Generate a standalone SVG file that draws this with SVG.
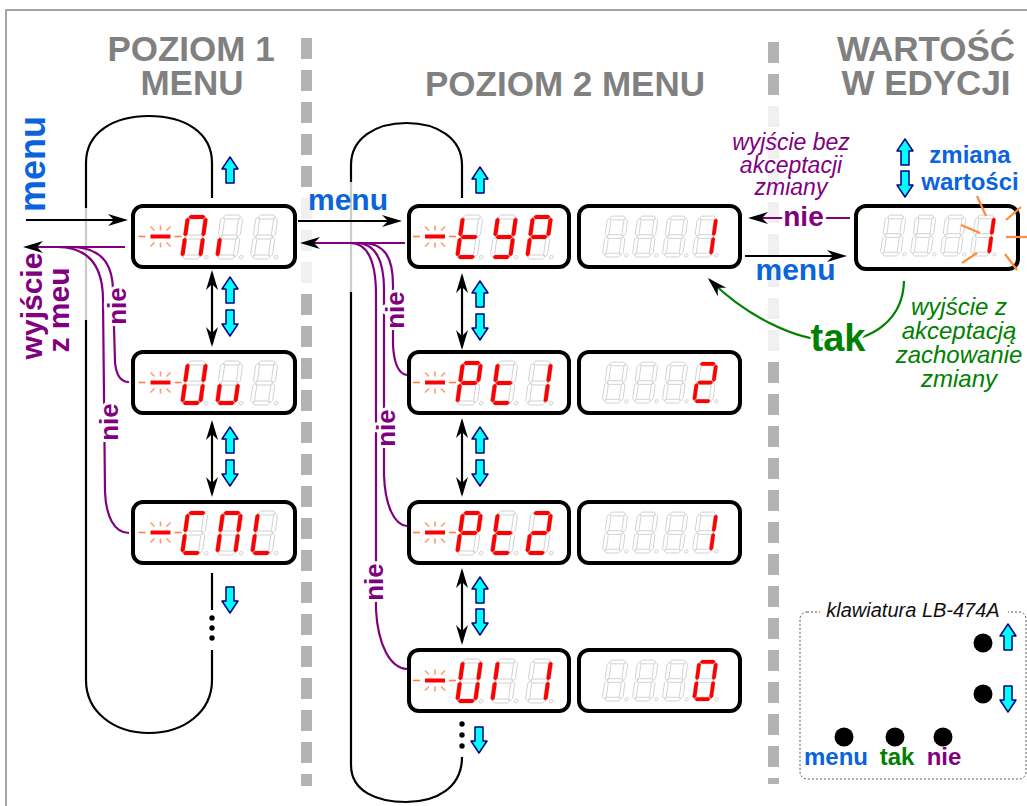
<svg xmlns="http://www.w3.org/2000/svg" width="1027" height="806" viewBox="0 0 1027 806">
<style>
text{font-family:"Liberation Sans",Arial,sans-serif}
.b{font-weight:bold}
.it{font-style:italic}
.hdr{font-weight:bold;font-size:35px;fill:#808080;text-anchor:middle}
.bl{fill:#0a64dc}
.pu{fill:#800080}
.gr{fill:#008000}
.mid{text-anchor:middle}
.halo{paint-order:stroke;stroke:#fff;stroke-width:6px;stroke-linejoin:round}
.box{fill:#fff;stroke:#000;stroke-width:4}
.blk{fill:none;stroke:#000;stroke-width:2.2}
.lgt{fill:none;stroke:#cccccc;stroke-width:2.2}
.pur{fill:none;stroke:#800080;stroke-width:2.2}
.grn{fill:none;stroke:#008000;stroke-width:2.2}
.cy{fill:#00ffff;stroke:#000080;stroke-width:1.5;stroke-linejoin:round}
.off{fill:none;stroke:#cccccc;stroke-width:0.9}
.on{fill:#ff0000;stroke:none}
.ray{stroke:#ff8c3c;stroke-width:2.2}
.arr{marker-end:url(#ah)}
.dbl{marker-start:url(#ah);marker-end:url(#ah)}
</style>
<defs>
<marker id="ah" viewBox="-21 -7 22 14" refX="-3" refY="0" markerWidth="22" markerHeight="14" markerUnits="userSpaceOnUse" orient="auto-start-reverse"><path d="M0,0 L-20,-6 L-14,0 L-20,6 Z" fill="#000"/></marker>
<path id="up" d="M0,-13 L8,-1 L4,-1 L4,13 L-4,13 L-4,-1 L-8,-1 Z"/>
<path id="dn" d="M0,13 L8,1 L4,1 L4,-13 L-4,-13 L-4,1 L-8,1 Z"/>
<polygon id="sa" points="2.5,-42 4.5,-44 17.5,-44 19.5,-42 17.5,-40 4.5,-40"/>
<polygon id="sg" points="2.5,-22 4.5,-24 17.5,-24 19.5,-22 17.5,-20 4.5,-20"/>
<polygon id="sd" points="2.5,-2 4.5,-4 17.5,-4 19.5,-2 17.5,0 4.5,0"/>
<polygon id="sf" points="2,-41.5 4,-39.5 4,-24.5 2,-22.5 0,-24.5 0,-39.5"/>
<polygon id="sb" points="20,-41.5 22,-39.5 22,-24.5 20,-22.5 18,-24.5 18,-39.5"/>
<polygon id="se" points="2,-21.5 4,-19.5 4,-4.5 2,-2.5 0,-4.5 0,-19.5"/>
<polygon id="sc" points="20,-21.5 22,-19.5 22,-4.5 20,-2.5 18,-4.5 18,-19.5"/>
<g id="d8"><use href="#sa"/><use href="#sb"/><use href="#sc"/><use href="#sd"/><use href="#se"/><use href="#sf"/><use href="#sg"/><circle cx="26" cy="-1.8" r="1.8"/></g>
<g id="d3"><use href="#d8"/><use href="#d8" x="35"/><use href="#d8" x="70"/></g>
<g id="d4"><use href="#d8"/><use href="#d8" x="32.3"/><use href="#d8" x="64.5"/><use href="#d8" x="96.8"/></g>
<g id="gA"><use href="#sa"/><use href="#sb"/><use href="#sc"/><use href="#se"/><use href="#sf"/></g>
<g id="gi"><use href="#se"/></g>
<g id="gU"><use href="#sb"/><use href="#sc"/><use href="#sd"/><use href="#se"/><use href="#sf"/></g>
<g id="gu"><use href="#sc"/><use href="#sd"/><use href="#se"/></g>
<g id="gC"><use href="#sa"/><use href="#sd"/><use href="#se"/><use href="#sf"/></g>
<g id="gL"><use href="#sd"/><use href="#se"/><use href="#sf"/></g>
<g id="gt"><use href="#sd"/><use href="#se"/><use href="#sf"/><use href="#sg"/></g>
<g id="gY"><use href="#sb"/><use href="#sc"/><use href="#sd"/><use href="#sf"/><use href="#sg"/></g>
<g id="gP"><use href="#sa"/><use href="#sb"/><use href="#se"/><use href="#sf"/><use href="#sg"/></g>
<g id="g1"><use href="#sb"/><use href="#sc"/></g>
<g id="g2"><use href="#sa"/><use href="#sb"/><use href="#sd"/><use href="#se"/><use href="#sg"/></g>
<g id="gI"><use href="#se"/><use href="#sf"/></g>
<g id="g0"><use href="#sa"/><use href="#sb"/><use href="#sc"/><use href="#sd"/><use href="#se"/><use href="#sf"/></g>
<g id="blink">
<line x1="-22" y1="0" x2="-15" y2="0" stroke="#ff8040" stroke-width="1.6"/>
<line x1="14" y1="0" x2="21" y2="0" stroke="#ff8040" stroke-width="1.6"/>
<g stroke="#ff9a70" stroke-width="1.6">
<line x1="0" y1="-11" x2="0" y2="-6"/><line x1="0" y1="6" x2="0" y2="11"/>
<line x1="-10" y1="-10" x2="-6" y2="-6"/><line x1="10" y1="-10" x2="6" y2="-6"/>
<line x1="-10" y1="10" x2="-6" y2="6"/><line x1="10" y1="10" x2="6" y2="6"/>
</g>
<line x1="-10" y1="0" x2="10" y2="0" stroke="#ff0000" stroke-width="4"/>
</g>
</defs>

<rect width="1027" height="806" fill="#fff"/>
<path d="M6 806 V10 H1027" fill="none" stroke="#888" stroke-width="1.5"/>

<g id="separators">
<line x1="306.5" y1="38" x2="306.5" y2="786" stroke="#b3b3b3" stroke-width="11" stroke-dasharray="21 11"/>
<line x1="773.5" y1="42" x2="773.5" y2="784" stroke="#b3b3b3" stroke-width="11" stroke-dasharray="21 11"/>
<rect x="299" y="190" width="16" height="100" fill="#fff" opacity="0.8"/>
<rect x="766" y="100" width="16" height="256" fill="#fff" opacity="0.8"/>
</g>

<g id="headers">
<text class="hdr" x="191" y="61">POZIOM 1</text>
<text class="hdr" x="192" y="95">MENU</text>
<text class="hdr" x="565" y="96">POZIOM 2 MENU</text>
<text class="hdr" x="926" y="61">WARTOŚĆ</text>
<text class="hdr" x="926" y="95">W EDYCJI</text>
</g>

<g id="connectors">
<path class="blk" d="M212 198 V163 C212 132 184 116 149 116 C114 116 86 132 86 163 V208"/>
<path class="lgt" d="M86 208 V320"/>
<path class="blk" d="M86 320 V680 C86 712 114 733 149 733 C184 733 212 712 212 680 V650"/>
<path class="blk" d="M212 573 V610"/>
<circle cx="212" cy="618" r="2.7"/><circle cx="212" cy="628" r="2.7"/><circle cx="212" cy="638" r="2.7"/>
<path class="blk" d="M462 198 V165 C462 138 437 123 406.5 123 C376 123 351 138 351 165 V182"/>
<path class="lgt" d="M351 182 V292"/>
<path class="blk" d="M351 292 V765 C351 792 378 802 406 802 C436 802 462 788 462 757"/>
<circle cx="462" cy="724" r="2.7"/><circle cx="462" cy="735" r="2.7"/><circle cx="462" cy="746" r="2.7"/>
<path class="blk arr" d="M26 220 H125"/>
<path class="pur arr" d="M125 247 H26"/>
<path class="blk arr" d="M298 221 H399"/>
<path class="pur arr" d="M405 243 H303"/>
<path class="blk arr" d="M745 256 H844"/>
<path class="pur arr" d="M850 218 H751"/>
<path class="blk dbl" d="M212 273 V344"/>
<path class="blk dbl" d="M212 423 V494"/>
<path class="blk dbl" d="M462 276 V347"/>
<path class="blk dbl" d="M462 421 V494"/>
<path class="blk dbl" d="M462 571 V642"/>
<path class="pur" d="M70 247 C100 247 113 262 113 292 L115 362 C116 374 120 382 129 382"/>
<path class="pur" d="M57 247 C88 247 103 265 103 300 L105 492 C106 516 114 533 129 533"/>
<path class="pur" d="M362 243 C385 243 393 258 393 285 L393 345 C394 363 399 374 407 375"/>
<path class="pur" d="M356 243 C376 243 384 260 384 290 L384 475 C385 505 394 525 407 526"/>
<path class="pur" d="M350 243 C368 243 376 262 376 295 L376 610 C378 645 390 668 407 669"/>
<path class="grn arr" d="M904 281 C903 320 872 341 836 341 C792 341 742 312 710 280"/>
<text class="b pu halo" font-size="26" transform="translate(126,306) rotate(-90)" text-anchor="middle">nie</text>
<text class="b pu halo" font-size="26" transform="translate(117.5,422) rotate(-90)" text-anchor="middle">nie</text>
<text class="b pu halo" font-size="26" transform="translate(404,310) rotate(-90)" text-anchor="middle">nie</text>
<text class="b pu halo" font-size="26" transform="translate(395,428) rotate(-90)" text-anchor="middle">nie</text>
<text class="b pu halo" font-size="26" transform="translate(383,582) rotate(-90)" text-anchor="middle">nie</text>
<text class="b bl" font-size="36" transform="translate(45,164) rotate(-90)" text-anchor="middle">menu</text>
<text class="b pu" font-size="30" transform="translate(42,306) rotate(-90)" text-anchor="middle">wyjście</text>
<text class="b pu" font-size="30" transform="translate(69,310) rotate(-90)" text-anchor="middle">z meu</text>
<text class="b bl mid" font-size="30" x="348" y="210">menu</text>
<text class="b bl mid" font-size="30" x="795.5" y="280">menu</text>
<text class="b pu mid halo" font-size="28" x="803.5" y="226">nie</text>
<text class="b gr mid halo" font-size="38" x="838" y="351">tak</text>
<text class="it pu mid" font-size="23" x="791" y="150">wyjście bez</text>
<text class="it pu mid" font-size="23" x="791" y="172.5">akceptacji</text>
<text class="it pu mid" font-size="23" x="791" y="195">zmiany</text>
<text class="it gr mid" font-size="24" x="959" y="315">wyjście z</text>
<text class="it gr mid" font-size="24" x="959" y="339">akceptacją</text>
<text class="it gr mid" font-size="24" x="959" y="363">zachowanie</text>
<text class="it gr mid" font-size="24" x="959" y="387">zmiany</text>
<text class="b bl mid" font-size="24" x="970" y="163">zmiana</text>
<text class="b bl mid" font-size="24" x="970" y="190">wartości</text>
<use href="#up" class="cy" x="230" y="170"/>
<use href="#up" class="cy" x="230" y="290"/>
<use href="#dn" class="cy" x="230" y="323"/>
<use href="#up" class="cy" x="230" y="440"/>
<use href="#dn" class="cy" x="230" y="473"/>
<use href="#dn" class="cy" x="230" y="600"/>
<use href="#up" class="cy" x="480" y="180"/>
<use href="#up" class="cy" x="480" y="294"/>
<use href="#dn" class="cy" x="480" y="327"/>
<use href="#up" class="cy" x="480" y="440"/>
<use href="#dn" class="cy" x="480" y="473"/>
<use href="#up" class="cy" x="480" y="590"/>
<use href="#dn" class="cy" x="480" y="622"/>
<use href="#dn" class="cy" x="479" y="740"/>
<use href="#up" class="cy" x="905" y="152"/>
<use href="#dn" class="cy" x="905" y="184"/>
</g>

<g id="n-ai">
<rect class="box" x="133" y="206" width="162" height="61" rx="10"/>
<use href="#blink" x="160.5" y="236.5"/>
<g transform="translate(180,259) skewX(-8)"><use href="#d3" class="off"/><use href="#gA" class="on"/><use href="#gi" class="on" x="35"/></g>
</g>
<g id="n-uu">
<rect class="box" x="133" y="352" width="162" height="61" rx="10"/>
<use href="#blink" x="160.5" y="382.5"/>
<g transform="translate(180,405) skewX(-8)"><use href="#d3" class="off"/><use href="#gU" class="on"/><use href="#gu" class="on" x="35"/></g>
</g>
<g id="n-cal">
<rect class="box" x="133" y="502" width="162" height="61" rx="10"/>
<use href="#blink" x="160.5" y="532.5"/>
<g transform="translate(180,555) skewX(-8)"><use href="#d3" class="off"/><use href="#gC" class="on"/><use href="#gA" class="on" x="35"/><use href="#gL" class="on" x="70"/></g>
</g>

<g id="n-typ">
<rect class="box" x="409" y="206" width="160" height="61" rx="10"/>
<use href="#blink" x="435" y="236.5"/>
<g transform="translate(455,259) skewX(-8)"><use href="#d3" class="off"/><use href="#gt" class="on"/><use href="#gY" class="on" x="35"/><use href="#gP" class="on" x="70"/></g>
</g>
<g id="n-pt1">
<rect class="box" x="409" y="352" width="160" height="61" rx="10"/>
<use href="#blink" x="435" y="382.5"/>
<g transform="translate(455,405) skewX(-8)"><use href="#d3" class="off"/><use href="#gP" class="on"/><use href="#gt" class="on" x="35"/><use href="#g1" class="on" x="70"/></g>
</g>
<g id="n-pt2">
<rect class="box" x="409" y="502" width="160" height="61" rx="10"/>
<use href="#blink" x="435" y="532.5"/>
<g transform="translate(455,555) skewX(-8)"><use href="#d3" class="off"/><use href="#gP" class="on"/><use href="#gt" class="on" x="35"/><use href="#g2" class="on" x="70"/></g>
</g>
<g id="n-ui1">
<rect class="box" x="409" y="650" width="160" height="61" rx="10"/>
<use href="#blink" x="435" y="680.5"/>
<g transform="translate(455,703) skewX(-8)"><use href="#d3" class="off"/><use href="#gU" class="on"/><use href="#gI" class="on" x="35"/><use href="#g1" class="on" x="70"/></g>
</g>

<g id="v-typ">
<rect class="box" x="579" y="206" width="161" height="61" rx="10"/>
<g transform="translate(602,257) scale(0.93) skewX(-8)"><use href="#d4" class="off"/><use href="#g1" class="on" x="96.8"/></g>
</g>
<g id="v-pt1">
<rect class="box" x="579" y="352" width="161" height="61" rx="10"/>
<g transform="translate(602,403) scale(0.93) skewX(-8)"><use href="#d4" class="off"/><use href="#g2" class="on" x="96.8"/></g>
</g>
<g id="v-pt2">
<rect class="box" x="579" y="502" width="161" height="61" rx="10"/>
<g transform="translate(602,553) scale(0.93) skewX(-8)"><use href="#d4" class="off"/><use href="#g1" class="on" x="96.8"/></g>
</g>
<g id="v-ui1">
<rect class="box" x="579" y="650" width="161" height="61" rx="10"/>
<g transform="translate(602,701) scale(0.93) skewX(-8)"><use href="#d4" class="off"/><use href="#g0" class="on" x="96.8"/></g>
</g>

<g id="edit">
<rect class="box" x="856" y="206" width="162" height="63" rx="10"/>
<g transform="translate(880,256) scale(0.93) skewX(-8)"><use href="#d4" class="off"/><use href="#g1" class="on" x="96.8"/></g>
<g class="ray">
<line x1="977" y1="196" x2="986" y2="216"/>
<line x1="961" y1="225" x2="980" y2="233"/>
<line x1="962" y1="263" x2="977" y2="253"/>
<line x1="1006" y1="220" x2="1021" y2="207"/>
<line x1="1006" y1="237" x2="1027" y2="237"/>
<line x1="1005" y1="254" x2="1017" y2="270"/>
</g>
</g>

<g id="keyboard">
<rect x="800" y="612" width="226" height="167" rx="7" fill="none" stroke="#555" stroke-width="1" stroke-dasharray="2 2"/>
<rect x="820" y="604" width="188" height="16" fill="#fff"/>
<text class="it mid" font-size="20" x="913" y="617" fill="#111">klawiatura LB-474A</text>
<circle cx="983" cy="643" r="9.5"/>
<circle cx="983" cy="694" r="9.5"/>
<circle cx="844" cy="737" r="9.5"/>
<circle cx="895" cy="737" r="9.5"/>
<circle cx="943" cy="737" r="9.5"/>
<use href="#up" class="cy" x="1008" y="637"/>
<use href="#dn" class="cy" x="1008" y="699"/>
<text class="b bl mid" font-size="24" x="836" y="765">menu</text>
<text class="b gr mid" font-size="24" x="897" y="765">tak</text>
<text class="b pu mid" font-size="24" x="944" y="765">nie</text>
</g>
</svg>
